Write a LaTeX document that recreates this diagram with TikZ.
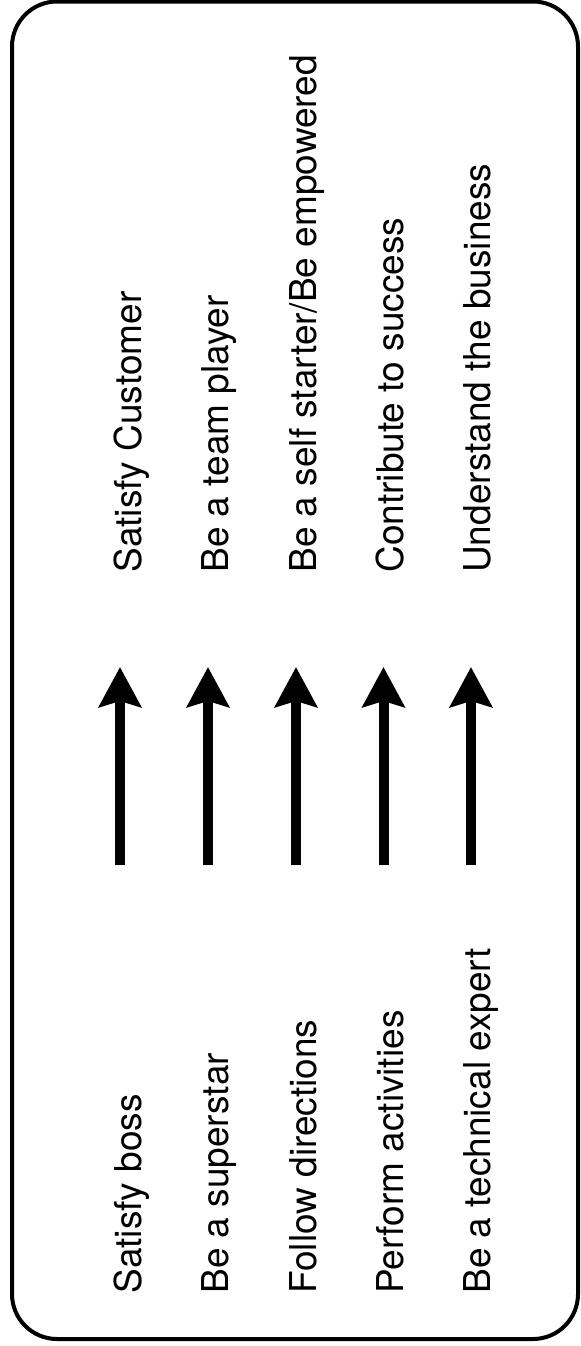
\documentclass[tikz,border=0pt]{standalone}
\usepackage{fontspec}
\setmainfont{TeX Gyre Heros}
\usetikzlibrary{arrows.meta}

\begin{document}
\begin{tikzpicture}[x=0.5pt, y=-0.5pt,
    lbl/.style={rotate=90, anchor=base west, inner sep=0pt, font=\fontsize{18.5}{22}\selectfont},
    up/.style={line width=5pt, -{Stealth[length=20pt, width=21pt, inset=3pt]}}]
  \useasboundingbox (0,0) rectangle (581,1346);
  \draw[line width=2pt, rounded corners=22.5pt] (12,1.5) rectangle (578,1339);

  % what is asked
  \node[lbl] (boss) at (141.5,1294) {Satisfy boss};
  \node[lbl] (star) at (228.8,1294) {Be a superstar};
  \node[lbl] (follow) at (316.1,1294) {Follow directions};
  \node[lbl] (perform) at (403.4,1294) {Perform activities};
  \node[lbl] (expert) at (490.7,1294) {Be a technical expert};

  % what is needed
  \node[lbl] (cust) at (141.5,573) {Satisfy Customer};
  \node[lbl] (team) at (228.8,573) {Be a team player};
  \node[lbl] (self) at (316.1,573) {Be a self starter/Be empowered};
  \node[lbl] (contrib) at (403.4,573) {Contribute to success};
  \node[lbl] (biz) at (490.7,573) {Understand the business};

  \coordinate (b1) at (120,865);   \coordinate (t1) at (120,667);
  \coordinate (b2) at (208,865);   \coordinate (t2) at (208,667);
  \coordinate (b3) at (296,865);   \coordinate (t3) at (296,667);
  \coordinate (b4) at (383.5,865); \coordinate (t4) at (383.5,667);
  \coordinate (b5) at (471,865);   \coordinate (t5) at (471,667);

  \draw[up] (b1) -- (t1);
  \draw[up] (b2) -- (t2);
  \draw[up] (b3) -- (t3);
  \draw[up] (b4) -- (t4);
  \draw[up] (b5) -- (t5);
\end{tikzpicture}
\end{document}
